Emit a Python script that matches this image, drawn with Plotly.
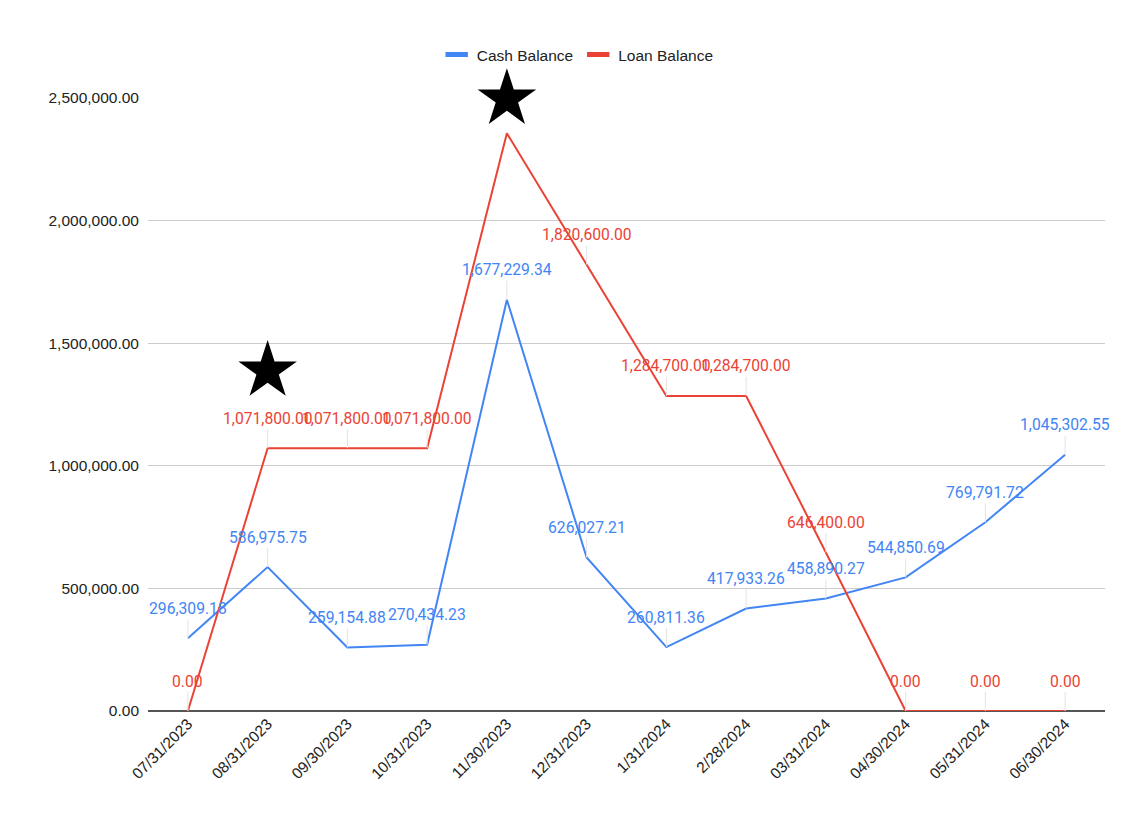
import plotly.graph_objects as go

dates = ["07/31/2023", "08/31/2023", "09/30/2023", "10/31/2023", "11/30/2023",
         "12/31/2023", "1/31/2024", "2/28/2024", "03/31/2024", "04/30/2024",
         "05/31/2024", "06/30/2024"]
cash_balance = [296309.18, 586975.75, 259154.88, 270434.23, 1677229.34, 626027.21,
                260811.36, 417933.26, 458890.27, 544850.69, 769791.72, 1045302.55]
loan_balance = [0.00, 1071800.00, 1071800.00, 1071800.00, 2356000.00, 1820600.00,
                1284700.00, 1284700.00, 646400.00, 0.00, 0.00, 0.00]
loan_label_shown = [True, True, True, True, False, True, True, True, True, True, True, True]
star_dates = ["08/31/2023", "11/30/2023"]
star_values = [1387000, 2496000]
y_ticks = [0, 500000, 1000000, 1500000, 2000000, 2500000]

BLUE = "#4285F4"
RED = "#EA4335"

fig = go.Figure()
fig.add_trace(go.Scatter(x=dates, y=cash_balance, mode="lines", name="Cash Balance",
                         line=dict(color=BLUE, width=2), showlegend=False))
fig.add_trace(go.Scatter(x=dates, y=loan_balance, mode="lines", name="Loan Balance",
                         line=dict(color=RED, width=2), showlegend=False))
# legend swatches (short thick bars like the original)
for nm, col in [("Cash Balance", BLUE), ("Loan Balance", RED)]:
    fig.add_trace(go.Scatter(x=[None], y=[None], mode="markers", name=nm,
                             marker=dict(symbol="line-ew-open", size=16, color=col,
                                         line=dict(width=5, color=col))))
fig.add_trace(go.Scatter(x=star_dates, y=star_values, mode="markers", showlegend=False,
                         marker=dict(symbol="star", size=44, color="black",
                                     line=dict(width=0)),
                         cliponaxis=False, hoverinfo="skip"))

annotations = []
def add_labels(values, color, shown=None):
    for i, (d, v) in enumerate(zip(dates, values)):
        if shown is not None and not shown[i]:
            continue
        annotations.append(dict(
            x=d, y=v, xref="x", yref="y", text=f"{v:,.2f}",
            showarrow=True, arrowhead=0, arrowwidth=1, arrowcolor="#e3e3e3",
            ax=0, ay=-30, standoff=0,
            font=dict(family="Roboto", size=15.7, color=color),
        ))

add_labels(loan_balance, RED, loan_label_shown)
add_labels(cash_balance, BLUE)

fig.update_layout(
    width=1130, height=816,
    paper_bgcolor="white", plot_bgcolor="white",
    margin=dict(l=148, r=25, t=98, b=105),
    font=dict(family="Liberation Sans, Arial", size=15.5, color="#222222"),
    showlegend=True,
    legend=dict(orientation="h", x=0.449, xanchor="center", y=1.0 + (98 - 55) / 613,
                yanchor="middle", font=dict(size=15.5, color="#222222"),
                bgcolor="rgba(0,0,0,0)", itemsizing="trace"),
    annotations=annotations,
    xaxis=dict(type="category", range=[-0.5, 11.5], tickangle=-45,
               showgrid=False, zeroline=False, showline=False, ticks="",
               tickfont=dict(size=15.5, color="#222222")),
    yaxis=dict(range=[0, 2500000], tickvals=y_ticks, tickformat=",.2f",
               showgrid=True, gridcolor="#cccccc", gridwidth=1,
               zeroline=True, zerolinecolor="#555555", zerolinewidth=1.5,
               showline=False, ticks="", ticklabelstandoff=8,
               tickfont=dict(size=15.5, color="#222222")),
)

fig.write_html("out.html")
